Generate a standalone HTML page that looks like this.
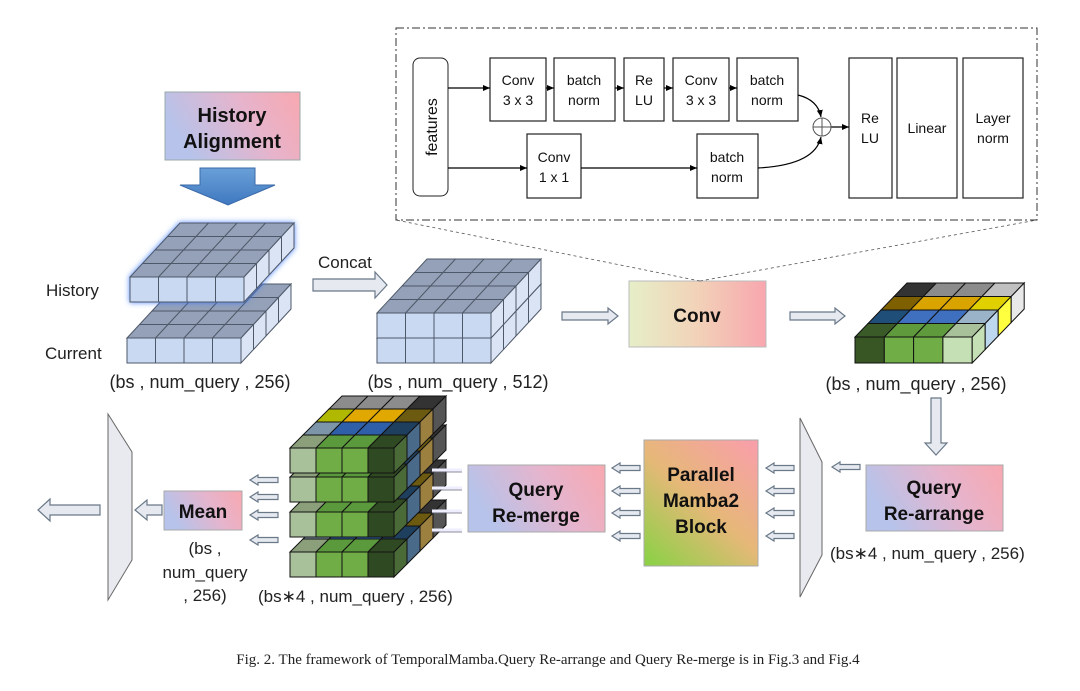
<!DOCTYPE html>
<html><head><meta charset="utf-8"><style>
body{margin:0;background:#fff}
svg text{font-family:"Liberation Sans","DejaVu Sans",sans-serif}
.n{vector-effect:non-scaling-stroke;stroke-width:1}
</style></head><body>
<svg width="1080" height="686" viewBox="0 0 1080 686" xmlns="http://www.w3.org/2000/svg">
<defs>
<linearGradient id="bp" x1="0" y1="0.3" x2="1" y2="0"><stop offset="0" stop-color="#b7c3ea"/><stop offset="0.55" stop-color="#e6b4cc"/><stop offset="1" stop-color="#f8a8b0"/></linearGradient>
<linearGradient id="yp" x1="0" y1="0" x2="1" y2="0"><stop offset="0" stop-color="#e6efc8"/><stop offset="0.5" stop-color="#f2d2b8"/><stop offset="1" stop-color="#f8a6ae"/></linearGradient>
<linearGradient id="mg" x1="0.1" y1="1" x2="0.9" y2="0"><stop offset="0" stop-color="#8fd048"/><stop offset="0.5" stop-color="#e6b878"/><stop offset="1" stop-color="#f8a0a8"/></linearGradient>
<linearGradient id="ba" x1="0" y1="0" x2="0" y2="1"><stop offset="0" stop-color="#6aa0d8"/><stop offset="1" stop-color="#3f78c0"/></linearGradient>
<filter id="glow" x="-20%" y="-30%" width="140%" height="160%"><feDropShadow dx="0" dy="0" stdDeviation="3" flood-color="#3b7cff" flood-opacity="0.9"/></filter>
<marker id="ah" markerWidth="8" markerHeight="8" refX="7" refY="4" orient="auto" markerUnits="userSpaceOnUse"><path d="M0,1 L7,4 L0,7 Z" fill="#000"/></marker>

<!-- blue slab at origin: front top-left (0,0), cw 28.5, h 25 -->
<g id="bl" stroke="#4d5868">
 <rect class="n" x="0" y="0" width="114" height="25" fill="#c9d9f2"/>
 <path class="n" d="M28.5,0V25M57,0V25M85.5,0V25" fill="none"/>
 <g transform="matrix(1 0 12.5 -13.5 0 0)">
  <rect class="n" x="0" y="0" width="114" height="4" fill="#95a1b8"/>
  <path class="n" d="M28.5,0V4M57,0V4M85.5,0V4M0,1H114M0,2H114M0,3H114" fill="none"/>
 </g>
 <g transform="matrix(12.5 -13.5 0 1 114 0)">
  <rect class="n" x="0" y="0" width="4" height="25" fill="#dbe4f4"/>
  <path class="n" d="M1,0V25M2,0V25M3,0V25" fill="none"/>
 </g>
</g>

<!-- stack slab -->
<g id="sk" stroke="#111">
 <rect class="n" x="0" y="0" width="26" height="25" fill="#a9c19a"/>
 <rect class="n" x="26" y="0" width="26" height="25" fill="#70ad47"/>
 <rect class="n" x="52" y="0" width="26" height="25" fill="#70ad47"/>
 <rect class="n" x="78" y="0" width="26" height="25" fill="#2f4a22"/>
 <g transform="matrix(1 0 13 -13 0 0)">
  <rect class="n" x="0" y="0" width="26" height="1" fill="#8a9f7a"/><rect class="n" x="26" y="0" width="26" height="1" fill="#5a9a3c"/><rect class="n" x="52" y="0" width="26" height="1" fill="#5a9a3c"/><rect class="n" x="78" y="0" width="26" height="1" fill="#2f4a22"/>
  <rect class="n" x="0" y="1" width="26" height="1" fill="#7c95a8"/><rect class="n" x="26" y="1" width="26" height="1" fill="#2f5fa8"/><rect class="n" x="52" y="1" width="26" height="1" fill="#2f5fa8"/><rect class="n" x="78" y="1" width="26" height="1" fill="#1f3f5f"/>
  <rect class="n" x="0" y="2" width="26" height="1" fill="#b0b800"/><rect class="n" x="26" y="2" width="26" height="1" fill="#e0a800"/><rect class="n" x="52" y="2" width="26" height="1" fill="#e0a800"/><rect class="n" x="78" y="2" width="26" height="1" fill="#6b5a10"/>
  <rect class="n" x="0" y="3" width="26" height="1" fill="#8c8c8c"/><rect class="n" x="26" y="3" width="26" height="1" fill="#8c8c8c"/><rect class="n" x="52" y="3" width="26" height="1" fill="#8c8c8c"/><rect class="n" x="78" y="3" width="26" height="1" fill="#333"/>
 </g>
 <g transform="matrix(13 -13 0 1 104 0)">
  <rect class="n" x="0" y="0" width="1" height="25" fill="#4a6a38"/><rect class="n" x="1" y="0" width="1" height="25" fill="#4a6a8a"/><rect class="n" x="2" y="0" width="1" height="25" fill="#9b8040"/><rect class="n" x="3" y="0" width="1" height="25" fill="#555"/>
 </g>
</g>

<polygon id="sa" points="28,-2.5 8,-2.5 8,-5 0,0 8,5 8,2.5 28,2.5" fill="#e6eaf0" stroke="#6a7888" stroke-width="1.2"/>
</defs>

<!-- blue cubes -->
<use href="#bl" x="127" y="338"/>
<use href="#bl" x="130" y="277" filter="url(#glow)"/>
<use href="#bl" x="377" y="338"/>
<use href="#bl" x="377" y="313"/>

<!-- colored output -->
<g stroke="#111">
 <rect class="n" x="855" y="337" width="29.3" height="26" fill="#375623"/>
 <rect class="n" x="884.3" y="337" width="29.3" height="26" fill="#70ad47"/>
 <rect class="n" x="913.6" y="337" width="29.3" height="26" fill="#70ad47"/>
 <rect class="n" x="942.9" y="337" width="29.3" height="26" fill="#c5e0b4"/>
 <g transform="matrix(1 0 13 -13.5 855 337)">
  <rect class="n" x="0" y="0" width="29.3" height="1" fill="#3a5a28"/><rect class="n" x="29.3" y="0" width="29.3" height="1" fill="#5f9a3c"/><rect class="n" x="58.6" y="0" width="29.3" height="1" fill="#5f9a3c"/><rect class="n" x="87.9" y="0" width="29.3" height="1" fill="#a9c19a"/>
  <rect class="n" x="0" y="1" width="29.3" height="1" fill="#1f4e79"/><rect class="n" x="29.3" y="1" width="29.3" height="1" fill="#3f6fbf"/><rect class="n" x="58.6" y="1" width="29.3" height="1" fill="#3f6fbf"/><rect class="n" x="87.9" y="1" width="29.3" height="1" fill="#9ab3c8"/>
  <rect class="n" x="0" y="2" width="29.3" height="1" fill="#7f6000"/><rect class="n" x="29.3" y="2" width="29.3" height="1" fill="#d9a400"/><rect class="n" x="58.6" y="2" width="29.3" height="1" fill="#d9a400"/><rect class="n" x="87.9" y="2" width="29.3" height="1" fill="#e0d000"/>
  <rect class="n" x="0" y="3" width="29.3" height="1" fill="#333"/><rect class="n" x="29.3" y="3" width="29.3" height="1" fill="#8c8c8c"/><rect class="n" x="58.6" y="3" width="29.3" height="1" fill="#8c8c8c"/><rect class="n" x="87.9" y="3" width="29.3" height="1" fill="#c0c0c0"/>
 </g>
 <g transform="matrix(13 -13.5 0 1 972.2 337)">
  <rect class="n" x="0" y="0" width="1" height="26" fill="#c5e0b4"/><rect class="n" x="1" y="0" width="1" height="26" fill="#bdd7ee"/><rect class="n" x="2" y="0" width="1" height="26" fill="#ffff40"/><rect class="n" x="3" y="0" width="1" height="26" fill="#e8e8e8"/>
 </g>
</g>

<!-- stack -->
<use href="#sk" x="290" y="552"/>
<use href="#sk" x="290" y="512"/>
<use href="#sk" x="290" y="477"/>
<use href="#sk" x="290" y="448"/>
<g stroke="#eef" stroke-width="3"><line x1="432" y1="470" x2="462" y2="470"/><line x1="432" y1="488" x2="462" y2="488"/><line x1="432" y1="511" x2="462" y2="511"/><line x1="432" y1="530" x2="462" y2="530"/></g>
<g stroke="#667" stroke-width="0.8"><line x1="432" y1="472" x2="462" y2="472"/><line x1="432" y1="490" x2="462" y2="490"/><line x1="432" y1="513" x2="462" y2="513"/><line x1="432" y1="532" x2="462" y2="532"/></g>

<!-- History Alignment -->
<rect x="165" y="92" width="135" height="68" fill="url(#bp)" stroke="#9aa" stroke-width="1"/>
<text x="232" y="122" font-size="20" font-weight="bold" text-anchor="middle" fill="#111">History</text>
<text x="232" y="148" font-size="20" font-weight="bold" text-anchor="middle" fill="#111">Alignment</text>
<polygon points="200,168 255,168 255,185 275,185 228,205 180,185 200,185" fill="url(#ba)" stroke="#3a6aa8" stroke-width="1"/>

<text x="46" y="296" font-size="17" fill="#222">History</text>
<text x="45" y="359" font-size="17" fill="#222">Current</text>
<text x="200" y="388" font-size="18" text-anchor="middle" fill="#222">(bs , num_query , 256)</text>
<text x="318" y="268" font-size="17" fill="#222">Concat</text>
<text x="458" y="388" font-size="18" text-anchor="middle" fill="#222">(bs , num_query , 512)</text>

<!-- Conv -->
<rect x="629" y="281" width="137" height="66" fill="url(#yp)" stroke="#bbb"/>
<text x="697" y="322" font-size="19" font-weight="bold" text-anchor="middle" fill="#111">Conv</text>
<line x1="700" y1="281" x2="396" y2="220" stroke="#555" stroke-dasharray="3,3" stroke-width="0.8"/>
<line x1="700" y1="281" x2="1037" y2="220" stroke="#555" stroke-dasharray="3,3" stroke-width="0.8"/>

<!-- inset -->
<rect x="396" y="28" width="641" height="192" fill="#fff" stroke="#333" stroke-width="1" stroke-dasharray="8,3,2,3"/>
<rect x="413" y="58" width="35" height="138" rx="7" fill="#fff" stroke="#222"/>
<text transform="translate(437,127) rotate(-90)" font-size="16" text-anchor="middle" fill="#111">features</text>
<g fill="#fff" stroke="#222" stroke-width="1.2">
<rect x="490" y="58" width="56" height="63"/><rect x="554" y="58" width="61" height="63"/><rect x="624" y="58" width="40" height="63"/><rect x="673" y="58" width="56" height="63"/><rect x="737" y="58" width="61" height="63"/>
<rect x="527" y="134" width="54" height="64"/><rect x="697" y="134" width="61" height="64"/>
<rect x="849" y="58" width="43" height="140"/><rect x="897" y="58" width="60" height="140"/><rect x="963" y="58" width="60" height="140"/>
</g>
<g font-size="14" text-anchor="middle" fill="#111">
<text x="518" y="85">Conv</text><text x="518" y="105">3 x 3</text>
<text x="584" y="85">batch</text><text x="584" y="105">norm</text>
<text x="644" y="85">Re</text><text x="644" y="105">LU</text>
<text x="701" y="85">Conv</text><text x="701" y="105">3 x 3</text>
<text x="767" y="85">batch</text><text x="767" y="105">norm</text>
<text x="554" y="162">Conv</text><text x="554" y="182">1 x 1</text>
<text x="727" y="162">batch</text><text x="727" y="182">norm</text>
<text x="870" y="123">Re</text><text x="870" y="143">LU</text>
<text x="927" y="133">Linear</text>
<text x="993" y="123">Layer</text><text x="993" y="143">norm</text>
</g>
<g stroke="#000" stroke-width="1.2" fill="none" marker-end="url(#ah)">
<line x1="448" y1="88" x2="490" y2="88"/><line x1="546" y1="88" x2="554" y2="88"/><line x1="615" y1="88" x2="624" y2="88"/><line x1="664" y1="88" x2="673" y2="88"/><line x1="729" y1="88" x2="737" y2="88"/>
<line x1="448" y1="168" x2="527" y2="168"/><line x1="581" y1="168" x2="697" y2="168"/>
<path d="M798,95 Q818,100 821,117"/><path d="M758,168 Q815,165 821,137"/>
<line x1="831" y1="127" x2="849" y2="127"/>
</g>
<circle cx="822" cy="127" r="9" fill="#fff" stroke="#555"/>
<line x1="813" y1="127" x2="831" y2="127" stroke="#555"/><line x1="822" y1="118" x2="822" y2="136" stroke="#555"/>

<text x="916" y="390" font-size="18" text-anchor="middle" fill="#222">(bs ,  num_query , 256)</text>

<!-- Query Re-arrange -->
<rect x="866" y="465" width="137" height="66" fill="url(#bp)" stroke="#aaa"/>
<text x="934" y="494" font-size="19" font-weight="bold" text-anchor="middle" fill="#111">Query</text>
<text x="934" y="520" font-size="19" font-weight="bold" text-anchor="middle" fill="#111">Re-arrange</text>
<polygon points="800,418 822,462 822,555 800,597" fill="#e8eaef" stroke="#666"/>
<text x="830" y="559" font-size="17" fill="#222">(bs∗4 ,  num_query , 256)</text>

<!-- Mamba -->
<rect x="644" y="440" width="114" height="126" fill="url(#mg)" stroke="#aaa"/>
<text x="701" y="481" font-size="19" font-weight="bold" text-anchor="middle" fill="#111">Parallel</text>
<text x="701" y="507" font-size="19" font-weight="bold" text-anchor="middle" fill="#111">Mamba2</text>
<text x="701" y="533" font-size="19" font-weight="bold" text-anchor="middle" fill="#111">Block</text>

<!-- Re-merge -->
<rect x="468" y="465" width="137" height="67" fill="url(#bp)" stroke="#aaa"/>
<text x="536" y="496" font-size="19" font-weight="bold" text-anchor="middle" fill="#111">Query</text>
<text x="536" y="522" font-size="19" font-weight="bold" text-anchor="middle" fill="#111">Re-merge</text>

<!-- Mean -->
<rect x="164" y="491" width="78" height="39" fill="url(#bp)" stroke="#aaa"/>
<text x="203" y="518" font-size="19" font-weight="bold" text-anchor="middle" fill="#111">Mean</text>
<text x="205" y="554" font-size="17" text-anchor="middle" fill="#222">(bs ,</text>
<text x="205" y="578" font-size="17" text-anchor="middle" fill="#222">num_query</text>
<text x="205" y="601" font-size="17" text-anchor="middle" fill="#222">, 256)</text>
<polygon points="108,414 132,452 132,560 108,600" fill="#e8eaef" stroke="#666"/>
<text x="258" y="602" font-size="17" fill="#222">(bs∗4 ,  num_query , 256)</text>

<!-- arrows -->
<g fill="#e6eaf0" stroke="#6a7888" stroke-width="1.2">
<polygon points="313,279 375,279 375,272 387,285 375,298 375,291 313,291"/>
<polygon points="562,312 608,312 608,308 618,316 608,324 608,320 562,320"/>
<polygon points="790,312 835,312 835,308 845,316 835,324 835,320 790,320"/>
<polygon points="931,398 941,398 941,443 947,443 936,455 925,443 931,443"/>
<polygon points="162,505 147,505 147,500 135,510 147,520 147,515 162,515"/>
<polygon points="100,505 50,505 50,499 38,510 50,521 50,515 100,515"/>
</g>
<use href="#sa" x="832" y="467"/>
<use href="#sa" x="766" y="468"/><use href="#sa" x="766" y="491"/><use href="#sa" x="766" y="513"/><use href="#sa" x="766" y="536"/>
<use href="#sa" x="612" y="468"/><use href="#sa" x="612" y="491"/><use href="#sa" x="612" y="513"/><use href="#sa" x="612" y="536"/>
<use href="#sa" x="250" y="480"/><use href="#sa" x="250" y="497"/><use href="#sa" x="250" y="515"/><use href="#sa" x="250" y="540"/>

<text x="548" y="664" font-size="15" text-anchor="middle" fill="#222" style="font-family:'Liberation Serif',serif">Fig. 2.  The framework of TemporalMamba.Query Re-arrange and Query Re-merge is in Fig.3 and Fig.4</text>
</svg>
</body></html>
